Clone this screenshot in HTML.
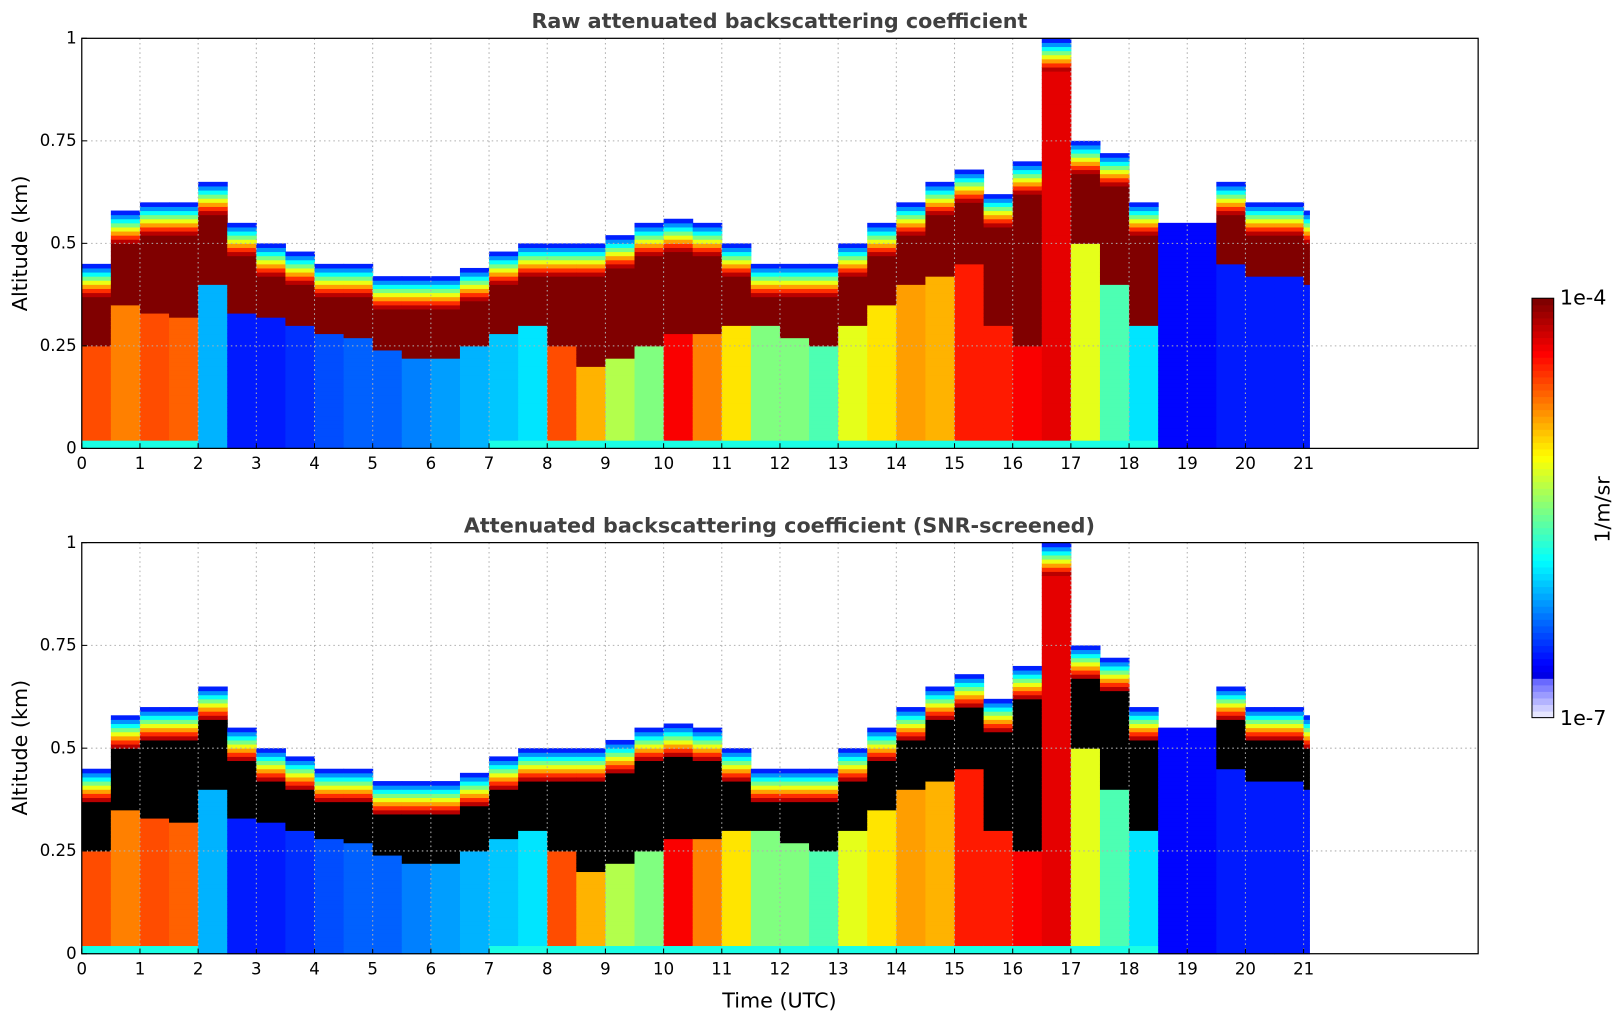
<!DOCTYPE html>
<html><head><meta charset="utf-8"><style>
html,body{margin:0;padding:0;background:#fff;overflow:hidden;width:1621px;height:1020px}
svg{display:block}
svg text{font-family:"DejaVu Sans","Liberation Sans",sans-serif}
</style></head><body>
<svg id="fig" width="1621" height="1020" viewBox="0 0 1566 985" preserveAspectRatio="none" xmlns="http://www.w3.org/2000/svg">
<text x="753" y="27" text-anchor="middle" font-size="20" font-weight="bold" fill="#404040">Raw attenuated backscattering coefficient</text>
<text x="753" y="514" text-anchor="middle" font-size="20" font-weight="bold" fill="#404040">Attenuated backscattering coefficient (SNR-screened)</text>
<text x="26" y="235" text-anchor="middle" font-size="20" transform="rotate(-90 26 235)">Altitude (km)</text>
<text x="26" y="722" text-anchor="middle" font-size="20" transform="rotate(-90 26 722)">Altitude (km)</text>
<text x="753" y="973" text-anchor="middle" font-size="20">Time (UTC)</text>
<g id="cbar"></g>
<text x="1507" y="294" font-size="20">1e-4</text>
<text x="1507" y="700" font-size="20">1e-7</text>
<text x="1555" y="492" text-anchor="middle" font-size="20" transform="rotate(-90 1555 492)">1/m/sr</text>
</svg>
<script>
// time (h), echo top (km), core base (km), sub-cloud jet level (0-1)
const times=[0,0.5,1,1.5,2,2.5,3,3.5,4,4.5,5,5.5,6,6.5,7,7.5,8,8.5,9,9.5,10,10.5,11,11.5,12,12.5,13,13.5,14,14.5,15,15.5,16,16.5,17,17.5,18,18.5,19,19.5,20,20.5,21];
const tops=[0.45,0.58,0.6,0.6,0.65,0.55,0.5,0.48,0.45,0.45,0.42,0.42,0.42,0.44,0.48,0.5,0.5,0.5,0.52,0.55,0.56,0.55,0.5,0.45,0.45,0.45,0.5,0.55,0.6,0.65,0.68,0.62,0.7,1.0,0.75,0.72,0.6,0.55,0.55,0.65,0.6,0.6,0.58];
const bases=[0.25,0.35,0.33,0.32,0.4,0.33,0.32,0.3,0.28,0.27,0.24,0.22,0.22,0.25,0.28,0.3,0.25,0.2,0.22,0.25,0.28,0.28,0.3,0.3,0.27,0.25,0.3,0.35,0.4,0.42,0.45,0.3,0.25,0.95,0.5,0.4,0.3,0.6,0.6,0.45,0.42,0.42,0.4];
const subs=[0.8,0.75,0.8,0.78,0.3,0.15,0.15,0.17,0.2,0.22,0.22,0.25,0.28,0.3,0.32,0.35,0.8,0.7,0.55,0.5,0.88,0.75,0.65,0.5,0.5,0.45,0.6,0.65,0.72,0.7,0.85,0.85,0.88,0.9,0.6,0.45,0.35,0.13,0.13,0.15,0.15,0.15,0.15];
const xTicks=[0,1,2,3,4,5,6,7,8,9,10,11,12,13,14,15,16,17,18,19,20,21];
const yTicks=[0,0.25,0.5,0.75,1];
const yTickLabels=["0","0.25","0.5","0.75","1"];

const NS="http://www.w3.org/2000/svg";
const svg=document.getElementById('fig');
const X0=79,X1=1428,TMAX=24;
const xs=t=>X0+(X1-X0)*t/TMAX;
function jet(v){v=Math.max(0,Math.min(1,v));
 const f=x=>Math.round(255*Math.max(0,Math.min(1,x)));
 return `rgb(${f(1.5-Math.abs(4*v-3))},${f(1.5-Math.abs(4*v-2))},${f(1.5-Math.abs(4*v-1))})`;}
function mk(tag,attrs,parent){const e=document.createElementNS(NS,tag);for(const k in attrs)e.setAttribute(k,attrs[k]);(parent||svg).appendChild(e);return e;}
function panel(yTop,yBot,screened,name){
 const ys=a=>yBot-(yBot-yTop)*a;
 const g=mk('g',{});
 
 
 const dz=0.01;
 for(let i=0;i<times.length;i++){
  const t0=times[i],t1=i<times.length-1?times[i+1]:21.1;
  const top=tops[i],base=bases[i],sub=subs[i];
  for(let z=0;z<1;z+=dz){
   const zc=z+dz/2;let col=null;
   if(zc>top){col=null;}
   else if(base>=top){col=jet(sub);}
   else if(zc>top-0.08){const v=0.1+0.9*(top-zc)/0.08;col=jet(v);}
   else if(zc>base){col=screened?'#000':jet(1);}
   else if(zc<0.025&&sub>0.3){col=jet(0.4);}
   else col=jet(sub);
   if(!col)continue;
   const r=mk('rect',{x:xs(t0),y:ys(z+dz),width:xs(t1)-xs(t0)+0.5,height:ys(z)-ys(z+dz)+0.5,fill:col},g);
   
   
  }
 }
 xTicks.forEach(t=>{if(t>0){const l=mk('line',{x1:xs(t),x2:xs(t),y1:yTop,y2:yBot,stroke:'#b0b0b0','stroke-dasharray':'1.5,3','stroke-width':1});
  }
  const tk=mk('line',{x1:xs(t),x2:xs(t),y1:yBot,y2:yBot-5,stroke:'#000'});
  
  const tx=mk('text',{x:xs(t),y:yBot+20,'text-anchor':'middle','font-size':16});tx.textContent=t;
  });
 yTicks.forEach((v,j)=>{if(v>0&&v<1){const l=mk('line',{x1:X0,x2:X1,y1:ys(v),y2:ys(v),stroke:'#b0b0b0','stroke-dasharray':'1.5,3'});
  }
  const tk=mk('line',{x1:X0,x2:X0+5,y1:ys(v),y2:ys(v),stroke:'#000'});
  
  const tx=mk('text',{x:X0-5,y:ys(v)+5,'text-anchor':'end','font-size':16});tx.textContent=yTickLabels[j];
  });
 const fr=mk('rect',{x:X0,y:yTop,width:X1-X0,height:yBot-yTop,fill:'none',stroke:'#000','stroke-width':1.2});
 
}
panel(37,433,false,'raw-panel');
panel(524,921,true,'screened-panel');
const cb=document.getElementById('cbar');
const CT=288,CB=693,N=64;
for(let k=0;k<N;k++){const y=CB-(CB-CT)*(k+1)/N;
 let col=k<6?`rgb(${Math.round(230-k*25)},${Math.round(230-k*25)},255)`:jet(0.1+0.9*(k-6)/(N-7));
 const r=mk('rect',{x:1480,y:y,width:21,height:(CB-CT)/N+0.5,fill:col},cb);
 }
mk('rect',{x:1480,y:CT,width:21,height:CB-CT,fill:'none',stroke:'#000'},cb);
</script>
</body></html>
